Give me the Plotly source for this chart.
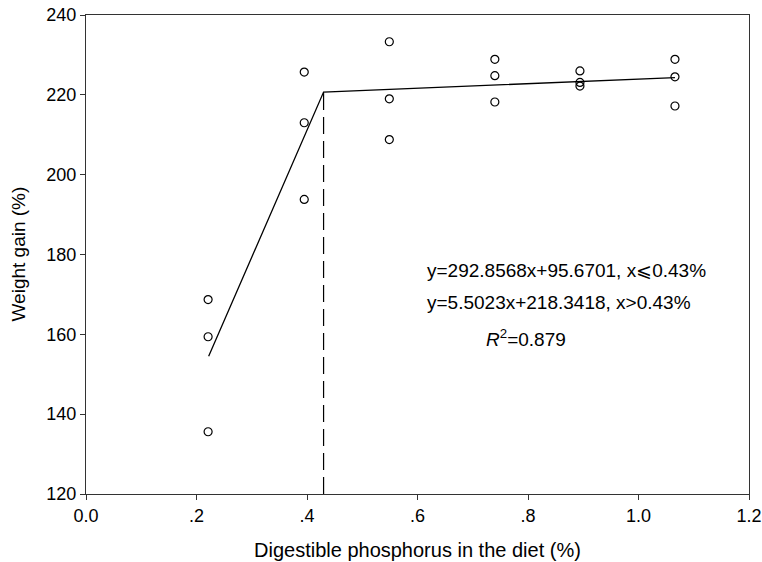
import plotly.graph_objects as go

# Observed data (digestible phosphorus %, weight gain %)
phos = [0.221, 0.221, 0.221,
        0.395, 0.395, 0.395,
        0.549, 0.549, 0.549,
        0.740, 0.740, 0.740,
        0.894, 0.894, 0.894,
        1.066, 1.066, 1.066]
gain = [168.7, 159.4, 135.6,
        225.7, 213.0, 193.8,
        233.3, 219.0, 208.8,
        228.9, 224.8, 218.2,
        226.0, 223.1, 222.2,
        228.9, 224.5, 217.2]

# Broken-line fit vertices
fit_x = [0.222, 0.43, 1.066]
fit_y = [154.5, 220.7, 224.3]
break_x = 0.43
break_y = 220.7

x_ticks = [0.0, 0.2, 0.4, 0.6, 0.8, 1.0, 1.2]
x_ticklabels = ["0.0", ".2", ".4", ".6", ".8", "1.0", "1.2"]
y_ticks = [120, 140, 160, 180, 200, 220, 240]

font = "Liberation Sans, Arial, sans-serif"

fig = go.Figure()
fig.add_trace(go.Scatter(x=[break_x, break_x], y=[120, break_y], mode="lines",
                         line=dict(color="black", width=1.2, dash="17px,7px"),
                         showlegend=False, hoverinfo="skip"))
fig.add_trace(go.Scatter(x=fit_x, y=fit_y, mode="lines",
                         line=dict(color="black", width=1.3),
                         showlegend=False))
fig.add_trace(go.Scatter(x=phos, y=gain, mode="markers",
                         marker=dict(symbol="circle-open", size=8, color="black",
                                     line=dict(width=1.2, color="black")),
                         showlegend=False))

ann_font = dict(family=font, size=19, color="black")
fig.add_annotation(x=0.613, y=176.1, xref="x", yref="y", xanchor="left", yanchor="middle",
                   text="y=292.8568x+95.6701, x⩽0.43%", showarrow=False, font=ann_font)
fig.add_annotation(x=0.613, y=168.1, xref="x", yref="y", xanchor="left", yanchor="middle",
                   text="y=5.5023x+218.3418, x>0.43%", showarrow=False, font=ann_font)
fig.add_annotation(x=0.72, y=159.0, xref="x", yref="y", xanchor="left", yanchor="middle",
                   text="<i>R</i><sup>2</sup>=0.879", showarrow=False, font=ann_font)

# Axis titles
fig.add_annotation(x=0.5, y=0, xref="paper", yref="paper", yshift=-56,
                   xanchor="center", yanchor="middle", showarrow=False,
                   text="Digestible phosphorus in the diet (%)",
                   font=dict(family=font, size=20, color="black"))
fig.add_annotation(x=0, y=0.5, xref="paper", yref="paper", xshift=-68,
                   xanchor="center", yanchor="middle", showarrow=False, textangle=-90,
                   text="Weight gain (%)",
                   font=dict(family=font, size=19, color="black"))

axis_common = dict(showgrid=False, zeroline=False, showline=True, linecolor="#333",
                   linewidth=1.2, mirror=True, ticks="outside", ticklen=5,
                   tickcolor="#333", automargin=False, ticklabeloverflow="allow",
                   tickfont=dict(family=font, size=18, color="black"))

fig.update_xaxes(range=[0, 1.2], tickvals=x_ticks, ticktext=x_ticklabels, **axis_common)
fig.update_yaxes(range=[120, 240], tickvals=y_ticks, **axis_common)

fig.update_layout(width=762, height=562, margin=dict(l=86, r=13, t=15, b=68),
                  plot_bgcolor="white", paper_bgcolor="white")

# remove the default 8px page margin so the figure fills the window exactly
fig.write_html("out.html", config={"displayModeBar": False},
               post_script="document.body.style.margin='0';document.body.style.overflow='hidden';")
